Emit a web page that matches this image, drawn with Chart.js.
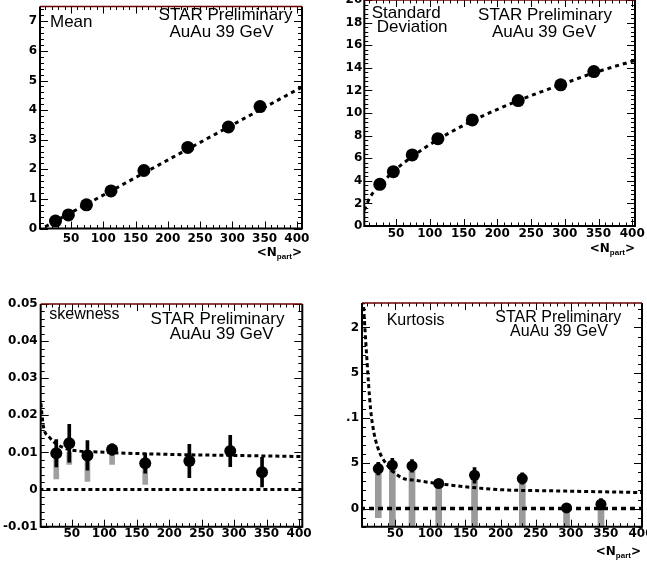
<!DOCTYPE html>
<html>
<head>
<meta charset="utf-8">
<script src="https://cdn.jsdelivr.net/npm/chart.js@4.4.1/dist/chart.umd.min.js"></script>
<style>
html, body { margin: 0; padding: 0; background: #fff; overflow: hidden; width: 647px; height: 564px; }
canvas { position: absolute; }
</style>
</head>
<body>
<canvas id="meanChart" width="323" height="262" style="left:0px;top:0px"></canvas>
<canvas id="stdChart" width="323" height="282" style="left:324px;top:-20px"></canvas>
<canvas id="skewChart" width="323" height="282" style="left:0px;top:282px"></canvas>
<canvas id="kurtChart" width="340" height="282" style="left:324px;top:282px"></canvas>
<script>
// centrality bins (average number of participants)
var npart = [26, 46, 74, 112, 163, 231, 294, 343];
var xTickValues = [50, 100, 150, 200, 250, 300, 350, 400];

// mean
var meanVals = [0.25, 0.46, 0.80, 1.27, 1.96, 2.74, 3.43, 4.12];
var meanFitX = [10, 408];
var meanFitY = [0.06, 4.78];

// standard deviation
var stdVals = [3.69, 4.81, 6.29, 7.73, 9.39, 11.10, 12.49, 13.67];
var stdFitX = [3, 12, 26, 46, 74, 112, 163, 231, 294, 343, 404];
var stdFitY = [1.4, 2.6, 3.6, 4.8, 6.15, 7.65, 9.3, 11.1, 12.5, 13.55, 14.65];

// skewness
var skewVals = [0.0098, 0.0125, 0.0092, 0.0108, 0.0071, 0.0077, 0.0104, 0.0047];
var skewStat = [0.0037, 0.0051, 0.0040, 0.0015, 0.0027, 0.0045, 0.0042, 0.0040];
var skewSysLo = [0.0029, 0.0068, 0.0022, 0.0068, 0.0014, null, null, null];
var skewSysHi = [0.0090, 0.0100, 0.0085, 0.0100, 0.0065, null, null, null];
var skewFitX = [2.3, 6, 15, 42, 94, 196, 298, 405];
var skewFitY = [0.0232, 0.0172, 0.0142, 0.0110, 0.0101, 0.0095, 0.0092, 0.0089];

// kurtosis
var kurtVals = [0.0442, 0.0479, 0.0471, 0.0277, 0.0368, 0.0332, 0.0007, 0.0048];
var kurtStat = [0.0070, 0.0075, 0.0070, 0.0040, 0.0086, 0.0062, 0.0040, 0.0062];
var kurtSysLo = [-0.0099, -0.03, -0.03, -0.03, -0.03, -0.03, -0.03, -0.03];
var kurtSysHi = [0.0442, 0.0479, 0.0471, 0.0277, 0.0368, 0.0332, 0.0007, 0.0048];
var kurtFitX = [4.5, 9.5, 15, 20, 25, 31, 57, 81, 128, 197, 280, 402];
var kurtFitY = [0.23, 0.168, 0.11, 0.083, 0.068, 0.057, 0.035, 0.031, 0.026, 0.021, 0.0195, 0.0177];
var kurtTickValues = [0, 0.05, 0.1, 0.15, 0.2];
var kurtTickLabels = ['0', '5', '.1', '5', '2'];

var zeroX = [0, 410];
var zeroY = [0, 0];

var FONT = '"Liberation Sans", Arial, Helvetica, sans-serif';
var TICKFONT = '"DejaVu Sans", Verdana, sans-serif';
Chart.defaults.font.family = TICKFONT;
Chart.defaults.font.weight = 'bold';
Chart.defaults.font.size = 12;
Chart.defaults.color = '#000';

function pts(xs, ys) {
    var out = [];
    for (var i = 0; i < xs.length; i++) {
        if (ys[i] !== null) out.push({x: xs[i], y: ys[i]});
    }
    return out;
}

function band(xs, lo, hi) {
    var out = [];
    for (var i = 0; i < xs.length; i++) {
        if (lo[i] !== null && hi[i] !== null) out.push({x: xs[i], y: [lo[i], hi[i]]});
    }
    return out;
}

function statBars(xs, vals, errs) {
    var out = [];
    for (var i = 0; i < xs.length; i++) {
        out.push({x: xs[i], y: [vals[i] - errs[i], vals[i] + errs[i]]});
    }
    return out;
}

function markers(data, r) {
    return {type: 'scatter', data: data, pointRadius: r, pointBackgroundColor: '#000',
        pointBorderWidth: 0, order: 0, clip: 0};
}

function dashed(data, w, dash) {
    return {type: 'line', data: data, borderColor: '#000', borderWidth: w, borderDash: dash,
        pointRadius: 0, fill: false, cubicInterpolationMode: 'monotone', order: 1, clip: 0};
}

function bars(data, color, w, order) {
    return {type: 'bar', data: data, backgroundColor: color, barThickness: w, grouped: false,
        borderWidth: 0, borderSkipped: false, order: order, clip: 0};
}

// ROOT-like frame: inward ticks on all sides, texts, <N_part> title
var rootFrame = {
    id: 'rootFrame',
    afterDraw: function (chart, args, opts) {
        var ctx = chart.ctx, a = chart.chartArea;
        var xs = chart.scales.x, ys = chart.scales.y;
        var i, p, len;
        ctx.save();
        ctx.strokeStyle = '#000';
        ctx.lineWidth = 1;
        ctx.beginPath();
        for (i = Math.ceil(xs.min / opts.xMinor); i * opts.xMinor <= xs.max; i++) {
            p = Math.round(xs.getPixelForValue(i * opts.xMinor)) + 0.5;
            len = (i % opts.xDiv === 0) ? 7 : 3.5;
            ctx.moveTo(p, a.bottom); ctx.lineTo(p, a.bottom - len);
            ctx.moveTo(p, a.top); ctx.lineTo(p, a.top + len);
        }
        for (i = Math.ceil(ys.min / opts.yMinor - 1e-6); i * opts.yMinor <= ys.max + 1e-9; i++) {
            p = Math.round(ys.getPixelForValue(i * opts.yMinor)) + 0.5;
            len = ((i % opts.yDiv + opts.yDiv) % opts.yDiv === 0) ? 8 : 4;
            ctx.moveTo(a.left, p); ctx.lineTo(a.left + len, p);
            ctx.moveTo(a.right, p); ctx.lineTo(a.right - len, p);
        }
        ctx.stroke();

        ctx.lineWidth = 2;
        ctx.beginPath();
        ctx.moveTo(a.left, a.top);
        ctx.lineTo(a.left, a.bottom);
        ctx.lineTo(a.right, a.bottom);
        ctx.lineTo(a.right, a.top);
        ctx.stroke();
        ctx.strokeStyle = '#6a0000';
        ctx.lineWidth = 1.5;
        ctx.beginPath();
        ctx.moveTo(a.left, a.top);
        ctx.lineTo(a.right, a.top);
        ctx.stroke();

        ctx.fillStyle = '#000';
        ctx.textBaseline = 'alphabetic';
        opts.texts.forEach(function (t) {
            ctx.font = 'normal ' + t.size + 'px ' + FONT;
            ctx.textAlign = t.align;
            ctx.fillText(t.text, t.x, t.y);
        });

        // <N_part>
        ctx.textAlign = 'left';
        ctx.font = 'bold 12px ' + TICKFONT;
        var w1 = ctx.measureText('<N').width;
        var w3 = ctx.measureText('>').width;
        ctx.font = 'bold 8px ' + FONT;
        var w2 = ctx.measureText('part').width;
        var x0 = opts.titleX - w1 - w2 - w3;
        ctx.font = 'bold 12px ' + TICKFONT;
        ctx.fillText('<N', x0, opts.titleY);
        ctx.fillText('>', x0 + w1 + w2, opts.titleY);
        ctx.font = 'bold 8px ' + FONT;
        ctx.fillText('part', x0 + w1, opts.titleY + 2.5);
        ctx.restore();
    }
};

function makeChart(id, s) {
    return new Chart(document.getElementById(id), {
        type: 'scatter',
        data: {datasets: s.datasets},
        options: {
            responsive: false,
            animation: false,
            events: [],
            layout: {padding: s.padding},
            plugins: {legend: {display: false}, tooltip: {enabled: false}, rootFrame: s.frame},
            scales: {
                x: {
                    type: 'linear', min: s.xMin, max: s.xMax, offset: false,
                    grid: {display: false, drawTicks: false, offset: false},
                    border: {display: false},
                    ticks: {padding: s.xPad, maxRotation: 0, autoSkip: false},
                    afterBuildTicks: function (sc) {
                        sc.ticks = xTickValues.filter(function (v) {
                            return v >= sc.min && v <= sc.max;
                        }).map(function (v) { return {value: v}; });
                    },
                    afterFit: function (sc) { sc.height = s.xH; sc.paddingLeft = 0; sc.paddingRight = 0; }
                },
                y: {
                    type: 'linear', min: s.yMin, max: s.yMax,
                    grid: {display: false, drawTicks: false},
                    border: {display: false},
                    ticks: {stepSize: s.yStep, includeBounds: false, padding: s.yPad, autoSkip: false,
                        callback: s.yLabel},
                    afterFit: function (sc) { sc.width = s.yW; sc.paddingTop = 0; sc.paddingBottom = 0; }
                }
            }
        },
        plugins: [rootFrame]
    });
}

makeChart('meanChart', {
    padding: {left: 0, top: 2, right: 21, bottom: 0},
    xMin: 2, xMax: 408, xH: 33.5, xPad: 3,
    yMin: 0, yMax: 7.5, yStep: 1, yW: 40, yPad: 3,
    frame: {xMinor: 10, xDiv: 5, yMinor: 0.2, yDiv: 5, titleX: 302, titleY: 256,
        texts: [
            {text: 'Mean', x: 50, y: 26.5, size: 17, align: 'left'},
            {text: 'STAR Preliminary', x: 225.5, y: 20, size: 17, align: 'center'},
            {text: 'AuAu 39 GeV', x: 221.5, y: 36.5, size: 17, align: 'center'}
        ]},
    datasets: [
        markers(pts(npart, meanVals), 6.5),
        dashed(pts(meanFitX, meanFitY), 3, [4, 4])
    ]
});

makeChart('stdChart', {
    padding: {left: 0, top: 20, right: 12, bottom: 0},
    xMin: 3, xMax: 404, xH: 36, xPad: 1,
    yMin: 0, yMax: 20, yStep: 2, yW: 40.3, yPad: 2,
    frame: {xMinor: 10, xDiv: 5, yMinor: 0.4, yDiv: 5, titleX: 311, titleY: 272,
        texts: [
            {text: 'Standard', x: 47.7, y: 38.3, size: 17, align: 'left'},
            {text: 'Deviation', x: 52.7, y: 51.7, size: 17, align: 'left'},
            {text: 'STAR Preliminary', x: 221, y: 40, size: 17, align: 'center'},
            {text: 'AuAu 39 GeV', x: 220, y: 56.7, size: 17, align: 'center'}
        ]},
    datasets: [
        markers(pts(npart, stdVals), 6.5),
        dashed(pts(stdFitX, stdFitY), 3, [4, 4])
    ]
});

makeChart('skewChart', {
    padding: {left: 0, top: 22, right: 20.7, bottom: 0},
    xMin: 2, xMax: 405, xH: 37.3, xPad: 0,
    yMin: -0.01, yMax: 0.05, yStep: 0.01, yW: 40.7, yPad: 3,
    yLabel: function (v) { return v === 0 ? '0' : v.toFixed(2); },
    frame: {xMinor: 10, xDiv: 5, yMinor: 0.002, yDiv: 5, titleX: 300, titleY: 292.5,
        texts: [
            {text: 'skewness', x: 49.3, y: 37.3, size: 16, align: 'left'},
            {text: 'STAR Preliminary', x: 217.5, y: 42, size: 17, align: 'center'},
            {text: 'AuAu 39 GeV', x: 221.7, y: 56.5, size: 17, align: 'center'}
        ]},
    datasets: [
        markers(pts(npart, skewVals), 6),
        dashed(pts(skewFitX, skewFitY), 3, [4, 3]),
        dashed(pts(zeroX, zeroY), 3, [4, 3]),
        bars(statBars(npart, skewVals, skewStat), '#000', 3, 2),
        bars(band(npart, skewSysLo, skewSysHi), '#a0a0a0', 5, 3)
    ]
});

makeChart('kurtChart', {
    padding: {left: 0, top: 21, right: 22, bottom: 0},
    xMin: 2.8, xMax: 401.4, xH: 37.3, xPad: 0,
    yMin: -0.02, yMax: 0.227, yStep: 0.05, yW: 38, yPad: 3,
    yLabel: function (v) {
        for (var i = 0; i < kurtTickValues.length; i++) {
            if (Math.abs(kurtTickValues[i] - v) < 1e-6) return kurtTickLabels[i];
        }
        return '';
    },
    frame: {xMinor: 10, xDiv: 5, yMinor: 0.01, yDiv: 5, titleX: 317, titleY: 273,
        texts: [
            {text: 'Kurtosis', x: 62.7, y: 43, size: 16, align: 'left'},
            {text: 'STAR Preliminary', x: 234.3, y: 39.5, size: 16, align: 'center'},
            {text: 'AuAu 39 GeV', x: 235, y: 53.5, size: 16, align: 'center'}
        ]},
    datasets: [
        markers(pts(npart, kurtVals), 5.5),
        dashed(pts(kurtFitX, kurtFitY), 3, [4, 3]),
        dashed(pts(zeroX, zeroY), 3.5, [5, 4]),
        bars(statBars(npart, kurtVals, kurtStat), '#000', 3, 2),
        bars(band(npart, kurtSysLo, kurtSysHi), '#9a9a9a', 6, 3)
    ]
});
</script>
</body>
</html>
